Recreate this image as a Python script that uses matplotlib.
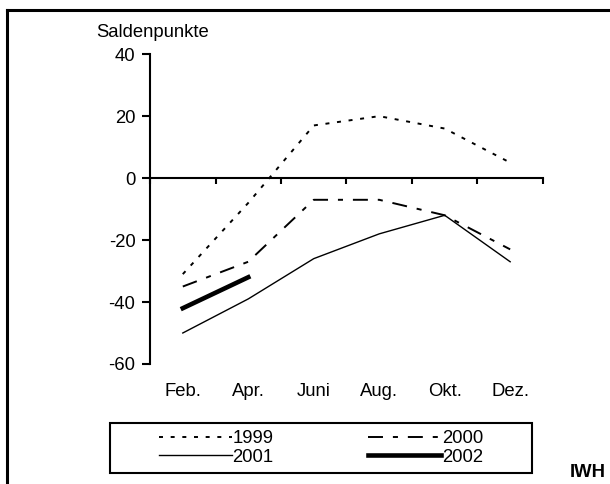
import matplotlib
matplotlib.use("Agg")
import matplotlib.pyplot as plt
from matplotlib.lines import Line2D
from matplotlib.patches import Rectangle

# Data
Months = ["Feb.", "Apr.", "Juni", "Aug.", "Okt.", "Dez."]
Values1999 = [-31, -8, 17, 20, 16, 5]
Values2000 = [-35, -27, -7, -7, -12, -23]
Values2001 = [-50, -39, -26, -18, -12, -27]
Values2002 = [-42, -32]
YTicks = [-60, -40, -20, 0, 20, 40]

plt.rcParams["font.family"] = ["Liberation Sans", "DejaVu Sans"]
plt.rcParams["font.size"] = 13.3
plt.rcParams["axes.unicode_minus"] = False

Fig = plt.figure(figsize=(6.1, 4.84), dpi=100)
Ax = Fig.add_axes([0.246, 0.248, 0.644, 0.640])

X = list(range(len(Months)))
L1999, = Ax.plot(X, Values1999, color="black", linewidth=1.4, dashes=(2.05, 3.95), label="1999")
L2000, = Ax.plot(X, Values2000, color="black", linewidth=1.4, dashes=(7.7, 5.1, 2.6, 5.1), label="2000")
L2001, = Ax.plot(X, Values2001, color="black", linewidth=1.0, label="2001")
L2002, = Ax.plot(X[:len(Values2002)], Values2002, color="black", linewidth=3.3, label="2002")

Ax.set_xlim(-0.5, len(Months) - 0.5)
Ax.set_ylim(YTicks[0], YTicks[-1])
Ax.set_yticks(YTicks)

# Category axis: ticks on the bin edges, labels below the plot area
Ax.set_xticks([i - 0.5 for i in range(len(Months) + 1)])
Ax.set_xticklabels([])
for i, Month in enumerate(Months):
    Ax.text(i, -0.09, Month, transform=Ax.get_xaxis_transform(), ha="center", va="center")

Ax.spines["top"].set_visible(False)
Ax.spines["right"].set_visible(False)
Ax.spines["bottom"].set_position(("data", 0))
Ax.spines["bottom"].set_linewidth(1.5)
Ax.spines["left"].set_linewidth(1.5)
Ax.tick_params(axis="y", direction="out", length=5.5, width=1.5, pad=5)
Ax.tick_params(axis="x", direction="out", length=4.5, width=1.5)

Fig.text(0.157, 0.932, "Saldenpunkte", ha="left", va="center")

# Legend filled row-wise: 1999, 2000 / 2001, 2002
Fig.legend([L1999, L2001, L2000, L2002], ["1999", "2001", "2000", "2002"],
           loc="center", bbox_to_anchor=(0.526, 0.0744), ncol=2, frameon=False,
           handlelength=3.95, handletextpad=0.05, columnspacing=5.1, labelspacing=0.1)
Fig.patches.append(Rectangle((0.180, 0.0227), 0.692, 0.103, transform=Fig.transFigure,
                             fill=False, edgecolor="black", linewidth=1.5))

# Outer frame (top and left edge)
Fig.add_artist(Line2D([0.0115, 1.0], [0.979, 0.979], transform=Fig.transFigure, color="black", linewidth=2.2))
Fig.add_artist(Line2D([0.0115, 0.0115], [0.0, 0.979], transform=Fig.transFigure, color="black", linewidth=2.2))

Fig.text(0.993, 0.024, "IWH", ha="right", va="center", fontweight="bold")

Fig.savefig("out.png", dpi=100)
